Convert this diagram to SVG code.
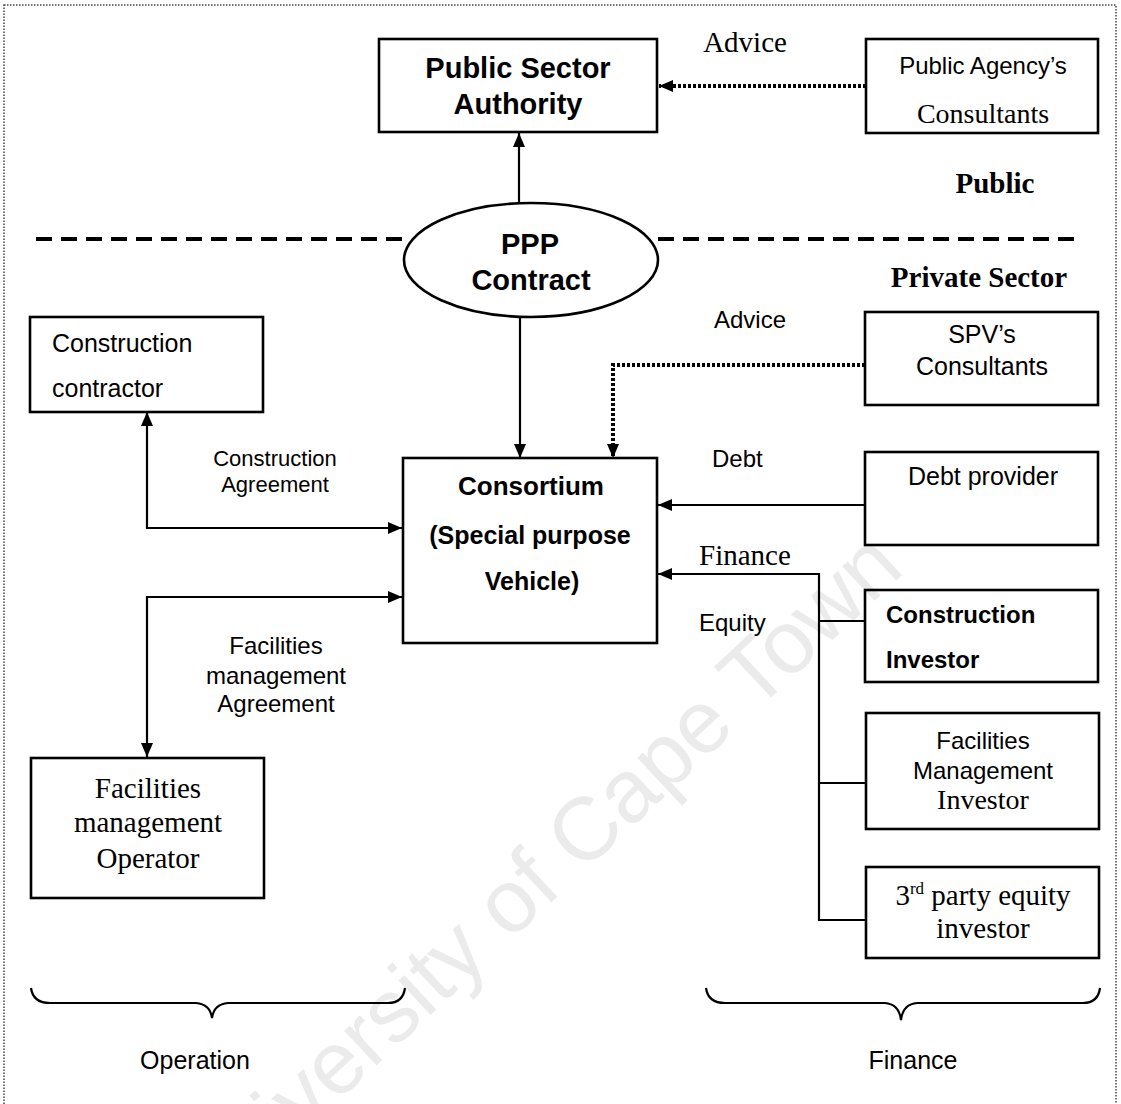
<svg xmlns="http://www.w3.org/2000/svg" width="1121" height="1104" viewBox="0 0 1121 1104">
<style>
.box{fill:none;stroke:#000;stroke-width:2.6}
.ln{fill:none;stroke:#000;stroke-width:2.2}
.dot{fill:none;stroke:#000;stroke-width:4;stroke-dasharray:3 2}
.dash{fill:none;stroke:#000;stroke-width:4;stroke-dasharray:16 9}
.s{font-family:"Liberation Sans",Arial,sans-serif;fill:#000}
.r{font-family:"Liberation Serif","Times New Roman",serif;fill:#000}
.b{font-weight:bold}
.m{text-anchor:middle}
</style>
<defs>
<marker id="ah" viewBox="0 0 14 12" refX="14" refY="6" markerWidth="14" markerHeight="12" markerUnits="userSpaceOnUse" orient="auto-start-reverse"><path d="M0,0 L14,6 L0,12 z" fill="#000"/></marker>
</defs>
<rect width="1121" height="1104" fill="#fff"/>
<text class="s" x="556" y="898" font-size="89" style="fill:#ebebeb" text-anchor="middle" transform="rotate(-43 556 898)">University of  Cape  Town</text>
<rect x="4" y="5" width="1112" height="1110" fill="none" stroke="#444" stroke-width="1.5" stroke-dasharray="1.5 1.5"/>
<g id="divider">
<line class="dash" x1="36" y1="239" x2="404" y2="239"/>
<line class="dash" x1="658" y1="239" x2="1076" y2="239"/>
</g>
<g id="connectors">
<line class="ln" x1="519" y1="202" x2="519" y2="133" marker-end="url(#ah)"/>
<line class="dot" x1="866" y1="86" x2="659" y2="86" marker-end="url(#ah)"/>
<line class="ln" x1="520" y1="317" x2="520" y2="458" marker-end="url(#ah)"/>
<polyline class="dot" points="865,365 613,365 613,458" marker-end="url(#ah)"/>
<line class="ln" x1="865" y1="505" x2="658" y2="505" marker-end="url(#ah)"/>
<polyline class="ln" points="819,574 658,574" marker-end="url(#ah)"/>
<line class="ln" x1="819" y1="573" x2="819" y2="921"/>
<line class="ln" x1="819" y1="621" x2="865" y2="621"/>
<line class="ln" x1="819" y1="783" x2="866" y2="783"/>
<line class="ln" x1="819" y1="920" x2="866" y2="920"/>
<polyline class="ln" points="147,412 147,528 402,528" marker-start="url(#ah)" marker-end="url(#ah)"/>
<polyline class="ln" points="402,597 147,597 147,757" marker-start="url(#ah)" marker-end="url(#ah)"/>
</g>
<g id="psa">
<rect class="box" x="379" y="39" width="278" height="93"/>
<text class="s b m" x="518" y="78" font-size="29">Public Sector</text>
<text class="s b m" x="518" y="114" font-size="29">Authority</text>
</g>
<g id="pac">
<rect class="box" x="866" y="39" width="232" height="94"/>
<text class="s m" x="983" y="74" font-size="24">Public Agency’s</text>
<text class="r m" x="983" y="123" font-size="28">Consultants</text>
</g>
<g id="labels-top">
<text class="r m" x="745" y="52" font-size="29">Advice</text>
<text class="r b m" x="995" y="193" font-size="29">Public</text>
<text class="r b m" x="979" y="287" font-size="29">Private Sector</text>
</g>
<g id="ppp">
<ellipse cx="531" cy="260" rx="127" ry="57" fill="#fff" stroke="#000" stroke-width="2.6"/>
<text class="s b m" x="530" y="254" font-size="29">PPP</text>
<text class="s b m" x="531" y="290" font-size="29">Contract</text>
</g>
<g id="cc">
<rect class="box" x="30" y="317" width="233" height="95"/>
<text class="s" x="52" y="352" font-size="25">Construction</text>
<text class="s" x="52" y="397" font-size="25">contractor</text>
</g>
<g id="consortium">
<rect class="box" x="403" y="458" width="254" height="185"/>
<text class="s b m" x="531" y="495" font-size="26">Consortium</text>
<text class="s b m" x="530" y="544" font-size="25">(Special purpose</text>
<text class="s b m" x="532" y="590" font-size="25">Vehicle)</text>
</g>
<g id="spv">
<rect class="box" x="865" y="312" width="233" height="93"/>
<text class="s m" x="982" y="343" font-size="25">SPV’s</text>
<text class="s m" x="982" y="375" font-size="25">Consultants</text>
</g>
<g id="debt">
<rect class="box" x="865" y="452" width="233" height="93"/>
<text class="s m" x="983" y="485" font-size="25">Debt provider</text>
</g>
<g id="ci">
<rect class="box" x="865" y="590" width="233" height="92"/>
<text class="s b" x="886" y="623" font-size="24">Construction</text>
<text class="s b" x="886" y="668" font-size="24">Investor</text>
</g>
<g id="fmi">
<rect class="box" x="866" y="713" width="233" height="116"/>
<text class="s m" x="983" y="749" font-size="24">Facilities</text>
<text class="s m" x="983" y="779" font-size="24">Management</text>
<text class="r m" x="983" y="809" font-size="28">Investor</text>
</g>
<g id="tpe">
<rect class="box" x="866" y="867" width="233" height="91"/>
<text class="r m" x="983" y="905" font-size="29">3<tspan dy="-11" font-size="17">rd</tspan><tspan dy="11"> party equity</tspan></text>
<text class="r m" x="983" y="938" font-size="29">investor</text>
</g>
<g id="fmo">
<rect class="box" x="31" y="758" width="233" height="140"/>
<text class="r m" x="148" y="798" font-size="29">Facilities</text>
<text class="r m" x="148" y="832" font-size="29">management</text>
<text class="r m" x="148" y="868" font-size="29">Operator</text>
</g>
<g id="edge-labels">
<text class="s m" x="275" y="466" font-size="22">Construction</text>
<text class="s m" x="275" y="492" font-size="22">Agreement</text>
<text class="s m" x="276" y="654" font-size="24">Facilities</text>
<text class="s m" x="276" y="684" font-size="24">management</text>
<text class="s m" x="276" y="712" font-size="24">Agreement</text>
<text class="s m" x="750" y="328" font-size="24">Advice</text>
<text class="s" x="712" y="467" font-size="24">Debt</text>
<text class="r" x="699" y="565" font-size="29">Finance</text>
<text class="s" x="699" y="631" font-size="24">Equity</text>
</g>
<g id="braces">
<path class="ln" d="M31,988 Q33,1003 50,1003 L196,1003 Q210,1004 212,1018 Q214,1004 228,1003 L388,1003 Q403,1003 405,988"/>
<path class="ln" d="M706,988 Q708,1003 725,1003 L885,1003 Q899,1004 901,1020 Q903,1004 917,1003 L1083,1003 Q1098,1003 1100,988"/>
</g>
<g id="group-labels">
<text class="s m" x="195" y="1069" font-size="25">Operation</text>
<text class="s m" x="913" y="1069" font-size="25">Finance</text>
</g>
</svg>
